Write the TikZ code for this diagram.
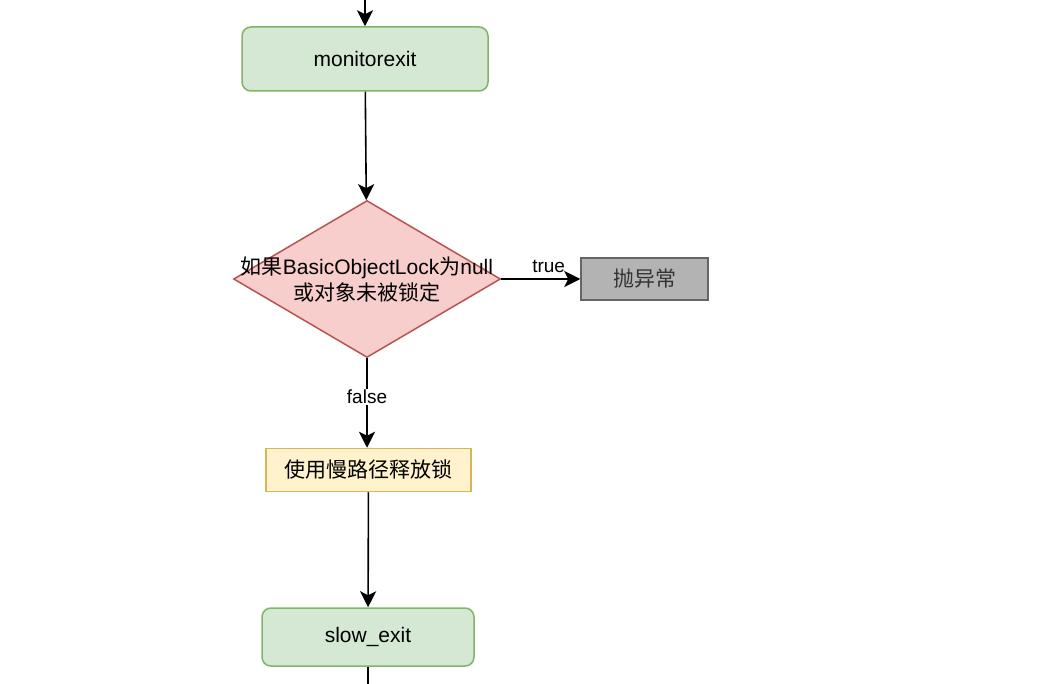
\documentclass[tikz,border=0pt]{standalone}
\usepackage{fontspec}
\setmainfont{Liberation Sans}
\newfontfamily\cjk{Noto Sans CJK SC}
\usepackage{tikz}
\usetikzlibrary{shapes.geometric,arrows.meta}

\definecolor{stepfill}{HTML}{D5E8D4}
\definecolor{stepline}{HTML}{82B366}
\definecolor{checkfill}{HTML}{F8CECC}
\definecolor{checkline}{HTML}{B85450}
\definecolor{slowfill}{HTML}{FFF2CC}
\definecolor{slowline}{HTML}{D6B656}
\definecolor{errfill}{HTML}{B3B3B3}
\definecolor{errline}{HTML}{666666}
\definecolor{errtext}{HTML}{333333}

\begin{document}
\begin{tikzpicture}[x=1pt,y=-1pt,
    stepbox/.style={draw=stepline,fill=stepfill,rounded corners=9pt,line width=1.5pt,
        font=\fontsize{21}{25}\selectfont},
    decision/.style={diamond,draw=checkline,fill=checkfill,line width=1.5pt,inner sep=0pt,
        minimum width=267pt,minimum height=157pt,aspect=1.7},
    slowbox/.style={draw=slowline,fill=slowfill,line width=1.5pt,minimum width=205pt,
        minimum height=43pt,font=\fontsize{21}{25}\selectfont\cjk},
    errbox/.style={draw=errline,fill=errfill,line width=1.5pt,minimum width=127pt,
        minimum height=42pt,text=errtext,font=\fontsize{21}{25}\selectfont\cjk},
    flow/.style={line width=1.6pt,-{Stealth[length=16pt,width=16pt,inset=4pt]}},
    branch/.style={font=\fontsize{19}{23}\selectfont,fill=white,inner sep=1pt}]
    \useasboundingbox (0,0) rectangle (1058,684);
    % nodes
    \coordinate (in) at (365,0);
    \node[stepbox,minimum width=246pt,minimum height=64pt] (exit) at (365,59) {monitorexit};
    \node[decision] (check) at (367,279) {};
    \node[align=center,font=\fontsize{21}{26}\selectfont] (checktext) at (367,280)
        {{\cjk 如果}BasicObjectLock{\cjk 为}null\\{\cjk 或对象未被锁定}};
    \node[errbox] (throw) at (644.5,279) {抛异常};
    \node[slowbox] (slow) at (368.5,470) {使用慢路径释放锁};
    \node[stepbox,minimum width=212pt,minimum height=58pt] (slowexit) at (368,637) {slow\_exit};
    \coordinate (out) at (368,684);
    % connectors
    \draw[flow] (in) -- (exit);
    \draw[flow] (exit) -- (check);
    \draw[flow] (check.east) -- node[above=2pt,pos=0.6,font=\fontsize{19}{23}\selectfont] {true} (throw);
    \draw[flow] (check.south) -- node[branch,pos=0.43] {false} (slow.north -| check.south);
    \draw[flow] (slow) -- (slowexit);
    \draw[line width=1.6pt] (slowexit) -- (out);
\end{tikzpicture}
\end{document}
